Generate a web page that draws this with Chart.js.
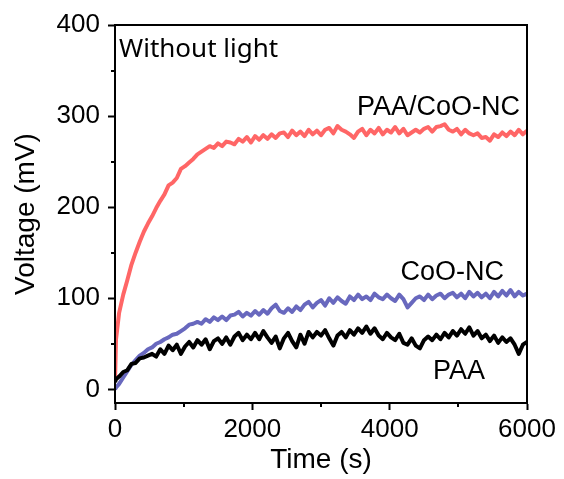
<!DOCTYPE html>
<html>
<head>
<meta charset="utf-8">
<script src="https://cdn.jsdelivr.net/npm/chart.js@4.4.0/dist/chart.umd.min.js"></script>
<style>
  html, body { margin: 0; padding: 0; background: #fff; }
  #wrap { width: 564px; height: 479px; position: relative; }
</style>
</head>
<body>
<div id="wrap"><canvas id="voltChart"></canvas></div>
<script>
// time axis (s)
const timeS = [
  0, 15, 60, 120, 180, 240, 300, 360, 420, 480, 540, 600, 660, 720, 780, 840, 900, 960, 1020, 1080,
  1140, 1200, 1260, 1320, 1380, 1440, 1500, 1560, 1620, 1680, 1740, 1800, 1860, 1920, 1980, 2040,
  2100, 2160, 2220, 2280, 2340, 2400, 2460, 2520, 2580, 2640, 2700, 2760, 2820, 2880, 2940, 3000,
  3060, 3120, 3180, 3240, 3300, 3360, 3420, 3480, 3540, 3600, 3660, 3720, 3780, 3840, 3900, 3960,
  4020, 4080, 4140, 4200, 4260, 4320, 4380, 4440, 4500, 4560, 4620, 4680, 4740, 4800, 4860, 4920,
  4980, 5040, 5100, 5160, 5220, 5280, 5340, 5400, 5460, 5520, 5580, 5640, 5700, 5760, 5820, 5880,
  5940, 6000
];

// PAA/CoO-NC (mV)
const paaCoo = [
  8, 55, 84, 104, 120, 137, 150, 162, 173, 182, 190, 199, 207, 214, 224, 227, 232, 242, 245, 249,
  253, 258, 261, 264, 267, 265, 270, 267, 272, 271, 269, 275, 272, 277, 271, 278,
  274, 279, 275, 280, 276, 281, 282, 277, 284, 279, 283, 278, 285, 280, 284, 279,
  285, 287, 281, 289, 285, 283, 280, 276, 283, 286, 279, 285, 281, 287, 280, 285,
  282, 288, 281, 286, 279, 282, 285, 282, 286, 288, 283, 288, 289, 291, 285, 283,
  286, 280, 285, 281, 279, 281, 276, 277, 273, 280, 277, 282, 278, 283, 279, 285,
  280, 284
];

// CoO-NC (mV)
const cooNc = [
  0, 2, 6, 13, 20, 27, 32, 37, 40, 44, 46, 50, 52, 55, 57, 60, 61, 64, 67, 71,
  72, 74, 72, 77, 74, 79, 76, 80, 76, 81, 82, 85, 80, 84, 81, 86,
  82, 87, 83, 89, 93, 86, 84, 89, 85, 91, 87, 93, 96, 90, 95, 98,
  92, 100, 95, 101, 97, 94, 102, 98, 104, 99, 102, 98, 105, 101, 99, 104,
  100, 97, 104, 99, 90, 95, 100, 102, 98, 104, 99, 103, 105, 100, 104, 106,
  101, 105, 100, 107, 102, 106, 101, 105, 100, 107, 102, 108, 103, 109, 102, 107,
  103, 105
];

// PAA (mV)
const paa = [
  8, 11, 14, 19, 21, 28, 29, 34, 35, 37, 39, 36, 44, 39, 48, 43, 49, 39, 47, 52,
  46, 54, 49, 55, 44, 53, 56, 50, 57, 49, 58, 62, 54, 60, 55, 62,
  55, 64, 57, 51, 58, 45, 56, 62, 53, 46, 60, 50, 63, 57, 63, 59,
  65, 56, 48, 59, 63, 57, 65, 60, 67, 62, 69, 61, 67, 59, 55, 62,
  57, 54, 61, 51, 49, 56, 48, 45, 54, 58, 54, 60, 55, 62, 57, 64,
  59, 66, 61, 68, 59, 64, 56, 60, 53, 59, 51, 57, 52, 56, 49, 39,
  49, 52
];

const xTicks = [0, 2000, 4000, 6000];
const yTicks = [0, 100, 200, 300, 400];
const xMinor = [1000, 3000, 5000];
const yMinor = [50, 150, 250, 350];

const toPts = (vals) => vals.map((v, i) => ({ x: timeS[i], y: v }));

// frame, minor ticks and text labels
const extrasPlugin = {
  id: "extras",
  afterDraw(chart) {
    const ctx = chart.ctx;
    const a = chart.chartArea;
    const xs = chart.scales.x;
    const ys = chart.scales.y;
    ctx.save();
    ctx.strokeStyle = "#000";
    ctx.lineWidth = 2;
    ctx.strokeRect(a.left, a.top, a.right - a.left, a.bottom - a.top);
    xMinor.forEach((v) => {
      const px = Math.round(xs.getPixelForValue(v));
      ctx.beginPath();
      ctx.moveTo(px, a.bottom);
      ctx.lineTo(px, a.bottom + 4);
      ctx.stroke();
    });
    yMinor.forEach((v) => {
      const py = Math.round(ys.getPixelForValue(v));
      ctx.beginPath();
      ctx.moveTo(a.left, py);
      ctx.lineTo(a.left - 4, py);
      ctx.stroke();
    });
    ctx.fillStyle = "#000";
    ctx.textBaseline = "alphabetic";
    ctx.textAlign = "left";
    ctx.font = "26px 'Noto Sans'";
    ctx.fillText("Without light", 119, 57);
    ctx.font = "27px 'Liberation Sans', Arial";
    ctx.textAlign = "right";
    ctx.fillText("PAA/CoO-NC", 520, 115);
    ctx.fillText("CoO-NC", 504, 280);
    ctx.fillText("PAA", 485, 379);
    ctx.restore();
  },
};

const tickFont = { family: "'Liberation Sans', Arial", size: 26 };
const titleFont = { family: "'Liberation Sans', Arial", size: 28 };

new Chart(document.getElementById("voltChart"), {
  type: "line",
  data: {
    datasets: [
      { label: "PAA", data: toPts(paa), borderColor: "#000000" },
      { label: "CoO-NC", data: toPts(cooNc), borderColor: "#6868BE" },
      { label: "PAA/CoO-NC", data: toPts(paaCoo), borderColor: "#FF6666" },
    ],
  },
  options: {
    responsive: true,
    maintainAspectRatio: false,
    animation: false,
    devicePixelRatio: 1,
    layout: { padding: { top: 25, right: 37, left: 0, bottom: 0 } },
    elements: {
      line: { borderWidth: 4, tension: 0, borderJoinStyle: "round" },
      point: { radius: 0 },
    },
    plugins: { legend: { display: false }, tooltip: { enabled: false } },
    scales: {
      x: {
        type: "linear",
        min: 0,
        max: 6000,
        afterFit: (s) => { s.height = 76; },
        afterBuildTicks: (s) => { s.ticks = xTicks.map((v) => ({ value: v })); },
        grid: { drawOnChartArea: false, tickLength: 7, tickWidth: 2, tickColor: "#000" },
        border: { color: "#000", width: 2 },
        ticks: { color: "#000", font: tickFont, padding: 4, maxRotation: 0, callback: (v) => String(v) },
        title: { display: true, text: "Time (s)", color: "#000", font: titleFont, padding: { top: 0, bottom: 2 } },
      },
      y: {
        type: "linear",
        min: -15,
        max: 400,
        afterFit: (s) => { s.width = 115; },
        afterBuildTicks: (s) => { s.ticks = yTicks.map((v) => ({ value: v })); },
        grid: { drawOnChartArea: false, tickLength: 7, tickWidth: 2, tickColor: "#000" },
        border: { color: "#000", width: 2 },
        ticks: { color: "#000", font: tickFont, padding: 8, callback: (v) => String(v) },
        title: { display: true, text: "Voltage (mV)", color: "#000", font: titleFont, padding: { top: 9, bottom: 0 } },
      },
    },
  },
  plugins: [extrasPlugin],
});
</script>
</body>
</html>
